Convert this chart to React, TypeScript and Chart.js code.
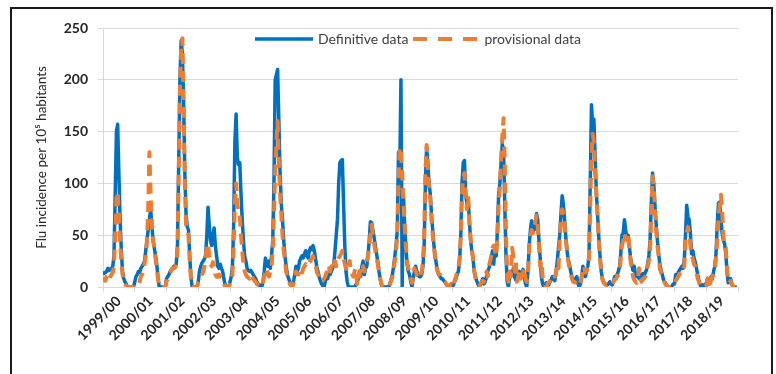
import React, { useEffect, useRef } from "react";
import { Chart, registerables } from "chart.js";

Chart.register(...registerables);

// Season labels (one per flu season)
const seasons = [
  "1999/00", "2000/01", "2001/02", "2002/03", "2003/04",
  "2004/05", "2005/06", "2006/07", "2007/08", "2008/09",
  "2009/10", "2010/11", "2011/12", "2012/13", "2013/14",
  "2014/15", "2015/16", "2016/17", "2017/18", "2018/19",
];

const yTicks = [0, 50, 100, 150, 200, 250];

// Definitive data: one row per season, bi-weekly readings
const definitive: number[][] = [
  [15, 13, 14, 15, 18, 16, 17, 18, 20, 30, 90, 150, 157, 110, 65, 35, 15, 8, 5, 3, 0, 0, 0, 0, 0, 0],
  [5, 10, 12, 15, 14, 18, 20, 22, 25, 35, 45, 55, 65, 75, 60, 45, 38, 30, 22, 10, 0, 0, 0, 0, 0, 0],
  [8, 10, 12, 15, 17, 18, 20, 20, 22, 40, 120, 200, 238, 225, 180, 110, 70, 58, 55, 30, 10, 0, 0, 0, 0, 0],
  [5, 15, 20, 23, 25, 27, 30, 50, 77, 60, 45, 40, 50, 57, 40, 30, 20, 18, 22, 18, 15, 8, 2, 0, 0, 0],
  [5, 10, 20, 60, 140, 167, 125, 118, 120, 90, 65, 45, 30, 25, 18, 16, 15, 16, 14, 12, 10, 8, 5, 3, 2, 0],
  [0, 5, 15, 28, 22, 20, 25, 18, 30, 45, 100, 200, 205, 210, 160, 110, 80, 65, 45, 30, 20, 12, 8, 5, 2, 0],
  [5, 12, 20, 15, 18, 25, 28, 30, 28, 32, 35, 30, 28, 35, 38, 36, 40, 35, 28, 20, 15, 10, 6, 3, 1, 0],
  [5, 10, 8, 14, 12, 15, 18, 22, 35, 50, 65, 100, 120, 122, 123, 80, 40, 15, 5, 0, 0, 0, 0, 0, 0, 2],
  [3, 8, 15, 10, 20, 25, 12, 18, 20, 30, 45, 63, 62, 55, 48, 40, 32, 25, 15, 8, 2, 0, 0, 0, 0, 0],
  [0, 3, 8, 12, 20, 30, 40, 55, 130, 110, 200, 0, 90, 60, 40, 22, 15, 12, 5, 0, 8, 15, 20, 15, 12, 10],
  [10, 12, 20, 40, 100, 135, 120, 100, 90, 70, 55, 40, 30, 22, 15, 12, 10, 8, 8, 6, 5, 3, 2, 0, 0, 2],
  [0, 2, 5, 8, 12, 15, 25, 50, 100, 120, 122, 90, 80, 85, 65, 45, 35, 28, 15, 10, 6, 3, 0, 2, 5, 8],
  [3, 5, 10, 15, 18, 22, 28, 35, 22, 40, 30, 55, 90, 100, 120, 138, 132, 80, 30, 5, 0, 10, 15, 12, 18, 10],
  [7, 10, 13, 15, 10, 12, 17, 10, 3, 0, 15, 40, 55, 64, 58, 55, 60, 71, 65, 45, 28, 10, 3, 0, 2, 4],
  [3, 2, 5, 7, 10, 8, 6, 15, 25, 38, 50, 70, 88, 80, 65, 48, 35, 26, 22, 15, 10, 6, 5, 8, 10, 3],
  [0, 3, 10, 20, 15, 10, 15, 20, 30, 100, 176, 155, 162, 125, 92, 70, 48, 30, 15, 8, 5, 3, 2, 2, 3, 5],
  [3, 2, 5, 10, 8, 12, 15, 20, 32, 50, 52, 65, 55, 48, 50, 40, 28, 22, 16, 20, 12, 10, 12, 8, 10, 12],
  [13, 10, 14, 16, 22, 30, 45, 80, 110, 100, 78, 60, 45, 32, 22, 16, 12, 7, 5, 3, 1, 0, 0, 0, 1, 3],
  [3, 12, 8, 14, 16, 18, 20, 18, 26, 50, 79, 68, 65, 52, 32, 35, 28, 24, 18, 12, 6, 2, 0, 2, 0, 3],
  [3, 8, 3, 6, 10, 8, 15, 20, 32, 60, 81, 82, 65, 52, 45, 42, 32, 15, 4, 6, 8, 3, 1, 0, 0, 0],
];

// Provisional data: one row per season, bi-weekly readings
const provisional: number[][] = [
  [5, 8, 6, 10, 12, 8, 10, 12, 14, 20, 50, 85, 92, 70, 45, 25, 12, 6, 3, 1, 0, 0, 0, 0, 0, 0],
  [0, 0, 0, 2, 5, 10, 12, 15, 22, 30, 45, 75, 130, 90, 60, 45, 38, 28, 18, 8, 0, 0, 0, 0, 0, 0],
  [5, 8, 12, 14, 16, 18, 18, 19, 22, 35, 110, 190, 230, 240, 170, 100, 60, 55, 50, 25, 8, 0, 0, 0, 0, 0],
  [5, 7, 10, 12, 14, 20, 30, 38, 42, 30, 22, 20, 24, 20, 12, 10, 10, 12, 10, 9, 8, 4, 0, 0, 0, 0],
  [3, 6, 12, 40, 80, 100, 80, 72, 70, 50, 35, 22, 15, 12, 10, 9, 8, 12, 10, 8, 6, 5, 3, 2, 1, 0],
  [0, 5, 10, 15, 18, 12, 10, 15, 20, 35, 70, 110, 140, 160, 120, 90, 70, 50, 35, 25, 15, 10, 6, 3, 1, 0],
  [3, 8, 15, 12, 12, 18, 16, 14, 18, 20, 22, 20, 22, 24, 25, 28, 30, 26, 22, 15, 12, 10, 8, 5, 6, 8],
  [10, 14, 12, 18, 15, 20, 16, 22, 25, 20, 25, 28, 30, 32, 35, 28, 22, 18, 15, 20, 25, 15, 12, 10, 15, 18],
  [3, 12, 10, 18, 15, 20, 15, 22, 25, 30, 40, 50, 60, 50, 42, 35, 28, 22, 15, 8, 3, 0, 0, 0, 0, 0],
  [0, 3, 6, 10, 18, 25, 35, 50, 100, 135, 130, 110, 80, 60, 40, 25, 18, 14, 8, 4, 10, 18, 15, 12, 10, 8],
  [12, 15, 25, 50, 110, 137, 115, 95, 85, 65, 50, 38, 28, 20, 15, 12, 12, 10, 8, 6, 5, 3, 1, 0, 1, 3],
  [0, 3, 6, 10, 14, 18, 28, 50, 90, 105, 110, 85, 75, 88, 62, 48, 38, 28, 16, 8, 4, 2, 1, 3, 4, 6],
  [5, 8, 15, 10, 20, 25, 30, 38, 40, 35, 30, 50, 80, 95, 125, 145, 163, 120, 50, 15, 5, 15, 10, 38, 30, 15],
  [25, 5, 10, 15, 8, 12, 14, 18, 8, 5, 12, 38, 50, 55, 52, 58, 62, 69, 58, 40, 20, 25, 10, 5, 2, 0],
  [3, 4, 6, 8, 10, 12, 10, 13, 22, 18, 45, 65, 75, 72, 60, 45, 35, 25, 18, 12, 8, 5, 5, 4, 3, 1],
  [2, 5, 10, 18, 20, 14, 15, 22, 28, 80, 125, 148, 140, 110, 90, 68, 45, 28, 14, 7, 4, 3, 2, 3, 3, 3],
  [2, 3, 5, 7, 8, 10, 12, 15, 28, 40, 45, 52, 48, 45, 52, 38, 25, 18, 10, 7, 5, 4, 8, 18, 10, 5],
  [7, 8, 10, 14, 20, 25, 35, 70, 107, 95, 75, 55, 40, 30, 18, 14, 10, 7, 4, 2, 1, 0, 0, 0, 1, 2],
  [2, 6, 8, 10, 12, 16, 18, 17, 20, 45, 52, 58, 52, 40, 30, 27, 22, 20, 14, 8, 5, 1, 0, 0, 0, 1],
  [1, 7, 10, 3, 7, 10, 12, 16, 28, 45, 65, 80, 89, 75, 50, 40, 38, 18, 5, 4, 6, 2, 1, 0, 0, 0],
];

const BLUE = "#0070C0";
const ORANGE = "#ED7D31";
const GRID = "#d9d9d9";
const TEXT = "#262626";
const FONT = "Lato, 'Open Sans', sans-serif";

function toPoints(rows: number[][]) {
  const pts: { x: number; y: number }[] = [];
  rows.forEach((row, s) => {
    row.forEach((v, k) => pts.push({ x: s + k / row.length, y: v }));
  });
  return pts;
}

export default function App() {
  const canvasRef = useRef<HTMLCanvasElement | null>(null);

  useEffect(() => {
    if (!canvasRef.current) return;
    const chart = new Chart(canvasRef.current, {
      type: "line",
      data: {
        datasets: [
          {
            label: "Definitive data",
            data: toPoints(definitive),
            borderColor: BLUE,
            backgroundColor: BLUE,
            borderWidth: 3.5,
            borderJoinStyle: "round",
            pointRadius: 0,
            tension: 0,
            xAxisID: "x",
            order: 2,
          },
          {
            label: "provisional data",
            data: toPoints(provisional),
            borderColor: ORANGE,
            backgroundColor: ORANGE,
            borderWidth: 4,
            borderDash: [11, 7],
            borderJoinStyle: "round",
            pointRadius: 0,
            tension: 0,
            xAxisID: "x",
            order: 1,
          },
        ],
      },
      options: {
        responsive: false,
        animation: false,
        layout: { padding: { left: 30, right: 38, top: 28, bottom: 0 } },
        plugins: {
          legend: { display: false },
          tooltip: { enabled: false },
        },
        scales: {
          x: { type: "linear", min: 0, max: seasons.length, display: false },
          season: {
            type: "category",
            labels: seasons,
            position: "bottom",
            offset: true,
            grid: {
              offset: true,
              drawOnChartArea: false,
              drawTicks: true,
              tickLength: 5,
              color: GRID,
            },
            border: { display: true, color: GRID, width: 1 },
            ticks: {
              autoSkip: false,
              maxRotation: 45,
              minRotation: 45,
              padding: 1,
              color: TEXT,
              font: { family: FONT, size: 14, weight: "bold" },
            },
            afterFit: (s: any) => {
              s.height = 87;
            },
          },
          y: {
            min: 0,
            max: 250,
            afterBuildTicks: (s: any) => {
              s.ticks = yTicks.map((v) => ({ value: v }));
            },
            grid: { color: GRID, tickLength: 5, drawTicks: true },
            border: { display: true, color: GRID },
            ticks: {
              padding: 10,
              color: TEXT,
              font: { family: FONT, size: 14, weight: "bold" },
            },
            title: {
              display: true,
              text: "Flu incidence per 10⁵ habitants",
              color: TEXT,
              font: { family: FONT, size: 13.5 },
              padding: { top: 4, bottom: 4 },
            },
            afterFit: (s: any) => {
              s.width = 73;
            },
          },
        },
      },
    });
    return () => chart.destroy();
  }, []);

  return (
    <div style={{ position: "fixed", left: 0, top: 0, width: 776, height: 374, background: "#fff", overflow: "hidden" }}>
      <canvas ref={canvasRef} width={776} height={374} style={{ position: "absolute", left: 0, top: 0 }} />
      <div
        style={{
          position: "absolute",
          left: 10,
          top: 7,
          width: 763,
          height: 420,
          border: "2px solid #1a1a1a",
          boxSizing: "border-box",
          pointerEvents: "none",
        }}
      />
      <div
        style={{
          position: "absolute",
          left: 255,
          top: 31,
          display: "flex",
          alignItems: "center",
          fontFamily: FONT,
          fontSize: 14,
          lineHeight: "16px",
          color: "#404040",
          whiteSpace: "nowrap",
        }}
      >
        <svg width={58} height={6}>
          <line x1={0} y1={3} x2={58} y2={3} stroke={BLUE} strokeWidth={3.5} />
        </svg>
        <span style={{ marginLeft: 5 }}>Definitive data</span>
        <svg width={64} height={6} style={{ marginLeft: 5 }}>
          <line x1={0} y1={3} x2={64} y2={3} stroke={ORANGE} strokeWidth={4} strokeDasharray="14 11" />
        </svg>
        <span style={{ marginLeft: 7 }}>provisional data</span>
      </div>
    </div>
  );
}
